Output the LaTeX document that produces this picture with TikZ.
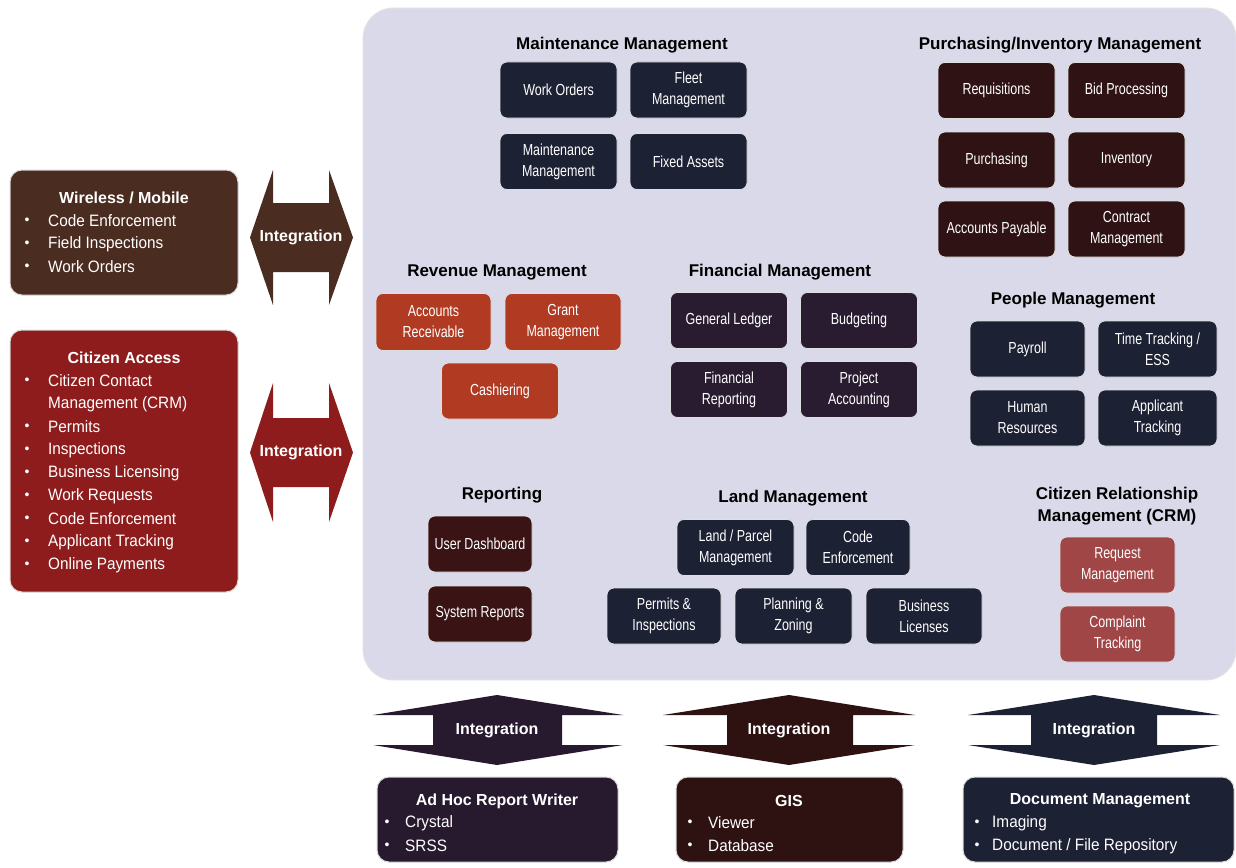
\documentclass[tikz,border=0pt]{standalone}
\usepackage{fontspec}
\setmainfont{Liberation Sans}
\newfontfamily\narrowfont{Liberation Sans}[FakeStretch=0.78]
\newfontfamily\semifont{Liberation Sans}[FakeStretch=0.93]
\definecolor{panelc}{HTML}{D9D9EA}
\definecolor{navyc}{HTML}{1D2134}
\definecolor{maroonc}{HTML}{2F1214}
\definecolor{repc}{HTML}{3A1415}
\definecolor{revc}{HTML}{B03A22}
\definecolor{finc}{HTML}{2A1C30}
\definecolor{crmc}{HTML}{A04646}
\definecolor{brownc}{HTML}{4B2C20}
\definecolor{redc}{HTML}{8E1C1C}
\definecolor{purpc}{HTML}{281A2E}
\definecolor{gisc}{HTML}{2E1212}
\begin{document}
\begin{tikzpicture}[x=1pt,y=-1pt,
  mod/.style={rounded corners=7pt, draw=white!75!gray, line width=0.8pt, text=white, align=center,
    font=\narrowfont\fontsize{16}{21}\selectfont, inner sep=0pt, minimum width=117pt, minimum height=56pt},
  ttl/.style={font=\bfseries\fontsize{17}{22}\selectfont, text=black, align=center, inner sep=0pt},
  integ/.style={font=\bfseries\fontsize{16}{18}\selectfont, text=white, inner sep=0pt},
  bigbox/.style={rounded corners=12pt, draw=white!70!gray, line width=1pt},
  btitle/.style={font=\bfseries\fontsize{16}{18}\selectfont, text=white, inner sep=0pt},
  itm/.style={font=\semifont\fontsize{16.5}{18}\selectfont, text=white, anchor=west, inner sep=0pt},
  bul/.style={font=\fontsize{14}{16}\selectfont, text=white, inner sep=0pt}
]
\useasboundingbox (0,0) rectangle (1236,867);
\fill[white] (0,0) rectangle (1236,867);
% main panel
\draw[fill=panelc, draw=white!80!gray, line width=0.8pt, rounded corners=30pt] (363,8) rectangle (1236,680);

% ---------- left boxes ----------
\draw[bigbox, fill=brownc] (10,170) rectangle (238,295);
\node[btitle] (wt) at (124,198) {Wireless / Mobile};
\foreach \t/\yy in {Code Enforcement/221, Field Inspections/244, Work Orders/267}{
  \node[bul] at (27,\yy) {•};
  \node[itm] at (48,\yy) {\t};
}
\draw[bigbox, fill=redc] (10,330) rectangle (238,592);
\node[btitle] (ct) at (124,358) {Citizen Access};
\foreach \t/\yy in {Citizen Contact/381, Permits/427, Inspections/450, Business Licensing/473, Work Requests/496, Code Enforcement/519, Applicant Tracking/542, Online Payments/565}{
  \node[bul] at (27,\yy) {•};
  \node[itm] at (48,\yy) {\t};
}
\node[itm] at (48,404) {Management (CRM)};

% ---------- left arrows ----------
\fill[brownc] (250,237.5) -- (273,170) -- (273,203) -- (329,203) -- (329,170) -- (353,237.5)
  -- (329,305) -- (329,272) -- (273,272) -- (273,305) -- cycle;
\node[integ] (ia) at (301,237.5) {Integration};
\fill[redc] (250,452.5) -- (273,383) -- (273,418) -- (329,418) -- (329,383) -- (353,452.5)
  -- (329,522) -- (329,487) -- (273,487) -- (273,522) -- cycle;
\node[integ] (ib) at (301,452.5) {Integration};

% ---------- Maintenance ----------
\node[ttl] (mt) at (622,45) {Maintenance Management};
\node[mod, fill=navyc] (wo) at (558.5,90) {Work Orders};
\node[mod, fill=navyc] (fm) at (688.5,90) {Fleet\\Management};
\node[mod, fill=navyc] (mm) at (558.5,161.5) {Maintenance\\Management};
\node[mod, fill=navyc] (fa) at (688.5,161.5) {Fixed Assets};

% ---------- Purchasing ----------
\node[ttl] (pt) at (1060,45) {Purchasing/Inventory Management};
\node[mod, fill=maroonc] (rq) at (996.5,90.5) {Requisitions};
\node[mod, fill=maroonc] (bp) at (1126.5,90.5) {Bid Processing};
\node[mod, fill=maroonc] (pu) at (996.5,160) {Purchasing};
\node[mod, fill=maroonc] (iv) at (1126.5,160) {Inventory};
\node[mod, fill=maroonc] (ap) at (996.5,229) {Accounts Payable};
\node[mod, fill=maroonc] (cm) at (1126.5,229) {Contract\\Management};

% ---------- Revenue ----------
\node[ttl] (rt) at (497,272) {Revenue Management};
\node[mod, fill=revc, minimum width=115pt, minimum height=57pt] (ar) at (433.5,322) {Accounts\\Receivable};
\node[mod, fill=revc, minimum width=116pt, minimum height=57pt] (gm) at (563,322) {Grant\\Management};
\node[mod, fill=revc] (cs) at (500,391) {Cashiering};

% ---------- Financial ----------
\node[ttl] (ft) at (780,272) {Financial Management};
\node[mod, fill=finc] (gl) at (729,320.5) {General Ledger};
\node[mod, fill=finc] (bu) at (859,320.5) {Budgeting};
\node[mod, fill=finc] (fr) at (729,389.5) {Financial\\Reporting};
\node[mod, fill=finc] (pa) at (859,389.5) {Project\\Accounting};

% ---------- People ----------
\node[ttl] (pp) at (1073,300) {People Management};
\node[mod, fill=navyc, minimum width=115pt] (py) at (1027.5,349) {Payroll};
\node[mod, fill=navyc, minimum width=119pt] (tt) at (1157.5,349) {Time Tracking /\\ESS};
\node[mod, fill=navyc, minimum width=115pt] (hr) at (1027.5,418) {Human\\Resources};
\node[mod, fill=navyc, minimum width=119pt] (at) at (1157.5,418) {Applicant\\Tracking};

% ---------- Reporting ----------
\node[ttl] (rp) at (502,495) {Reporting};
\node[mod, fill=repc, minimum width=104pt] (ud) at (480,544) {User Dashboard};
\node[mod, fill=repc, minimum width=104pt] (sr) at (480,614) {System Reports};

% ---------- Land ----------
\node[ttl] (lt) at (793,498) {Land Management};
\node[mod, fill=navyc] (lp) at (735.5,547.5) {Land / Parcel\\Management};
\node[mod, fill=navyc, minimum width=104pt] (ce) at (858,547.5) {Code\\Enforcement};
\node[mod, fill=navyc, minimum width=114pt] (pi) at (664,616) {Permits \&\\Inspections};
\node[mod, fill=navyc] (pz) at (793.5,616) {Planning \&\\Zoning};
\node[mod, fill=navyc, minimum width=116pt] (bl) at (924,616) {Business\\Licenses};

% ---------- CRM ----------
\node[ttl] (crt) at (1117,506) {Citizen Relationship\\Management (CRM)};
\node[mod, fill=crmc, minimum width=115pt] (rm) at (1117.5,565) {Request\\Management};
\node[mod, fill=crmc, minimum width=115pt] (cpt) at (1117.5,634) {Complaint\\Tracking};

% ---------- bottom arrows ----------
\fill[purpc] (497,695) -- (623,715) -- (562,715) -- (562,745) -- (623,745) -- (497,765)
  -- (373,745) -- (433,745) -- (433,715) -- (373,715) -- cycle;
\node[integ] (ic) at (497,730) {Integration};
\fill[gisc] (789,695) -- (915,715) -- (853,715) -- (853,745) -- (915,745) -- (789,765)
  -- (663,745) -- (727,745) -- (727,715) -- (663,715) -- cycle;
\node[integ] (id) at (789,730) {Integration};
\fill[navyc] (1094,695) -- (1220,715) -- (1157,715) -- (1157,745) -- (1220,745) -- (1094,765)
  -- (968,745) -- (1031,745) -- (1031,715) -- (968,715) -- cycle;
\node[integ] (ie) at (1094,730) {Integration};

% ---------- bottom boxes ----------
\draw[bigbox, fill=purpc] (377,777) rectangle (618,862);
\node[btitle] (ah) at (497,801) {Ad Hoc Report Writer};
\node[bul] at (387,823) {•}; \node[itm] at (405,823) {Crystal};
\node[bul] at (387,846) {•}; \node[itm] at (405,846) {SRSS};
\draw[bigbox, fill=gisc] (676,777) rectangle (903,862);
\node[btitle] (gs) at (789,801) {GIS};
\node[bul] at (690,823) {•}; \node[itm] at (708,823) {Viewer};
\node[bul] at (690,846) {•}; \node[itm] at (708,846) {Database};
\draw[bigbox, fill=navyc] (963,777) rectangle (1234,862);
\node[btitle] (dm) at (1100,801) {Document Management};
\node[bul] at (977,823) {•}; \node[itm] at (992,823) {Imaging};
\node[bul] at (977,846) {•}; \node[itm] at (992,846) {Document / File Repository};
\end{tikzpicture}
\end{document}
